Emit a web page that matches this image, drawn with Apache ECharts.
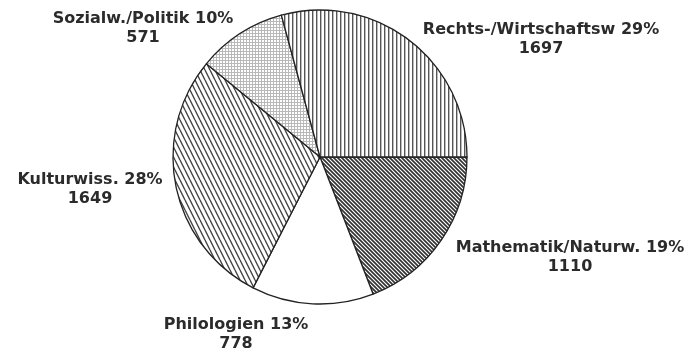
<!DOCTYPE html>
<html><head><meta charset="utf-8">
<script src="https://cdn.jsdelivr.net/npm/echarts@6/dist/echarts.min.js"></script>
<style>html,body{margin:0;padding:0;background:#fff}#c{width:687px;height:355px}</style>
</head><body><div id="c"></div>
<script>
var categories = ['Mathematik/Naturw.', 'Philologien', 'Kulturwiss.', 'Sozialw./Politik', 'Rechts-/Wirtschaftsw'];
var values = [1110, 778, 1649, 571, 1697];
var total = values.reduce(function(a,b){return a+b;},0);

function tile(w, h, draw) {
  var c = document.createElement('canvas'); c.width = w; c.height = h;
  var g = c.getContext('2d'); g.fillStyle = '#fff'; g.fillRect(0,0,w,h); draw(g, w, h); return c;
}
function lines(g, segs, color, lw) {
  g.strokeStyle = color; g.lineWidth = lw; g.beginPath();
  segs.forEach(function(s){ g.moveTo(s[0],s[1]); g.lineTo(s[2],s[3]); });
  g.stroke();
}
var patMath = tile(4,4,function(g,w,h){ lines(g,[[-4,0,4,8],[0,0,4,4],[-2,-2,6,6],[0,-4,8,4],[-4,-4,4,4]],'#333',1.7); });
var patKult = tile(5,10,function(g,w,h){ lines(g,[[0,0,5,10],[-5,0,0,10],[5,0,10,10]],'#444',1.4); });
var patSoz = tile(3,3,function(g,w,h){ g.fillStyle='#b8b8b8'; g.fillRect(0,0,3,1); g.fillRect(0,0,1,3); });
var patRecht = tile(4,4,function(g,w,h){ g.fillStyle='#555'; g.fillRect(0,0,1.4,4); });
var fills = [
  {image: patMath, repeat: 'repeat'},
  '#ffffff',
  {image: patKult, repeat: 'repeat'},
  {image: patSoz, repeat: 'repeat'},
  {image: patRecht, repeat: 'repeat'}
];
var labelPos = [[570,257],[236,334],[90,189],[143,28],[541,39]];

var chart = echarts.init(document.getElementById('c'), null, {renderer:'canvas'});
chart.setOption({
  backgroundColor: '#fff',
  animation: false,
  series: [{
    type: 'pie',
    center: [320, 157],
    radius: [0, 147],
    startAngle: 0,
    clockwise: true,
    avoidLabelOverlap: false,
    data: categories.map(function(n,i){ return {name:n, value:values[i], itemStyle:{color:fills[i]}}; }),
    itemStyle: {borderColor:'#222', borderWidth:1.3},
    label: {
      show: true,
      position: 'outside',
      color: '#2b2b2b',
      fontFamily: 'DejaVu Sans',
      fontWeight: 'bold',
      fontSize: 16,
      lineHeight: 19,
      align: 'center',
      formatter: function(p){ return p.name + ' ' + Math.round(p.value/total*100) + '%\n' + p.value; }
    },
    labelLine: {show: false},
    labelLayout: function(p){ var q = labelPos[p.dataIndex]; return {x:q[0], y:q[1], align:'center', verticalAlign:'middle'}; },
    emphasis: {disabled: true}
  }]
});
</script></body></html>
